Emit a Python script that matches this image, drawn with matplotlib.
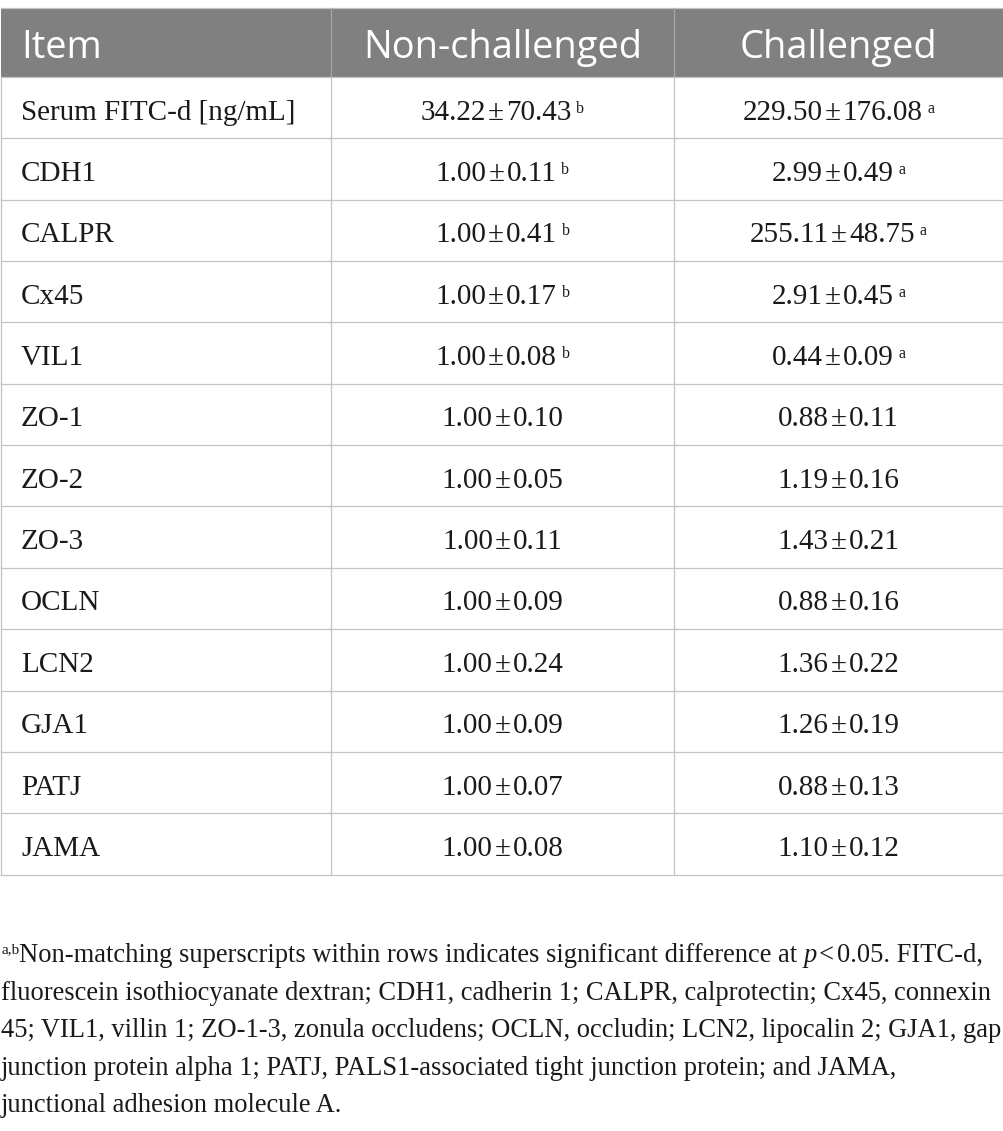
import matplotlib
matplotlib.use('Agg')
import matplotlib.pyplot as plt
from matplotlib.patches import Rectangle

# ---------------- data ----------------
headers = ["Item", "Non-challenged", "Challenged"]
items = ["Serum FITC-d [ng/mL]", "CDH1", "CALPR", "Cx45", "VIL1", "ZO-1", "ZO-2",
         "ZO-3", "OCLN", "LCN2", "GJA1", "PATJ", "JAMA"]
nonch_mean = ["34.22", "1.00", "1.00", "1.00", "1.00", "1.00", "1.00",
              "1.00", "1.00", "1.00", "1.00", "1.00", "1.00"]
nonch_sd = ["70.43", "0.11", "0.41", "0.17", "0.08", "0.10", "0.05",
            "0.11", "0.09", "0.24", "0.09", "0.07", "0.08"]
nonch_sup = ["b", "b", "b", "b", "b", "", "", "", "", "", "", "", ""]
chal_mean = ["229.50", "2.99", "255.11", "2.91", "0.44", "0.88", "1.19",
             "1.43", "0.88", "1.36", "1.26", "0.88", "1.10"]
chal_sd = ["176.08", "0.49", "48.75", "0.45", "0.09", "0.11", "0.16",
           "0.21", "0.16", "0.22", "0.19", "0.13", "0.12"]
chal_sup = ["a", "a", "a", "a", "a", "", "", "", "", "", "", "", ""]

footnote_lines = [
    [("a,b", "sup"), ("Non-matching superscripts within rows indicates significant difference at ", "n"),
     ("p", "i"), ("<", "lt"), ("0.05. FITC-d,", "n")],
    [("fluorescein isothiocyanate dextran; CDH1, cadherin 1; CALPR, calprotectin; Cx45, connexin", "n")],
    [("45; VIL1, villin 1; ZO-1-3, zonula occludens; OCLN, occludin; LCN2, lipocalin 2; GJA1, gap", "n")],
    [("junction protein alpha 1; PATJ, PALS1-associated tight junction protein; and JAMA,", "n")],
    [("junctional adhesion molecule A.", "n")],
]

# ---------------- layout ----------------
W, H = 1004, 1131
fig = plt.figure(figsize=(W / 100, H / 100), dpi=100)
ax = fig.add_axes([0, 0, 1, 1])
ax.set_xlim(0, W)
ax.set_ylim(H, 0)
ax.axis('off')
fig.canvas.draw()
R = fig.canvas.get_renderer()

SERIF = ['Liberation Serif', 'DejaVu Serif']
SANS = ['Open Sans', 'DejaVu Sans']
BODY = 21
SUP = 11.5
FOOT = 19.1
TXT = '#1a1a1a'

x_left, x_c1, x_c2, x_right = 1, 331, 674, 1003
y_top, y_head = 8, 77
row_h = 61.35
nrows = len(items)
y_bottom = y_head + row_h * nrows
grid = '#c3c3c3'

# header
ax.add_patch(Rectangle((x_left, y_top), x_right - x_left, y_head - y_top,
                       facecolor='#808080', edgecolor='none', zorder=1))
ax.plot([x_left, x_right], [y_top, y_top], color=grid, lw=0.9, zorder=2)
for xv in (x_c1, x_c2):
    ax.plot([xv, xv], [y_top, y_head], color='#a6a6a6', lw=0.9, zorder=2)

hy = 58
HS = 27.4
ax.text(21, hy, headers[0], family=SANS, fontsize=HS, color='white', ha='left', va='baseline', zorder=3)
ax.text((x_c1 + x_c2) / 2, hy, headers[1], family=SANS, fontsize=HS, color='white', ha='center', va='baseline', zorder=3)
ax.text((x_c2 + x_right) / 2, hy, headers[2], family=SANS, fontsize=HS, color='white', ha='center', va='baseline', zorder=3)

# grid lines
for k in range(nrows + 1):
    y = y_head + row_h * k
    ax.plot([x_left, x_right], [y, y], color=grid, lw=0.9, zorder=2)
for xv in (x_left, x_c1, x_c2, x_right):
    ax.plot([xv, xv], [y_head, y_bottom], color=grid, lw=0.9, zorder=2)


def width(s, **kw):
    t = ax.text(0, 0, s, **kw)
    w = t.get_window_extent(renderer=R).width
    t.remove()
    return w


PM_GAP = 2
SUP_GAP = 5


def cell(xc, yb, mean, sd, sup):
    kw = dict(family=SERIF, fontsize=BODY)
    skw = dict(family=SERIF, fontsize=SUP)
    w1 = width(mean, **kw)
    w2 = width("\u00b1", **kw)
    w3 = width(sd, **kw)
    ws = width(sup, **skw) if sup else 0
    total = w1 + w2 + w3 + 2 * PM_GAP + ((SUP_GAP + ws) if sup else 0)
    x = xc - total / 2
    ax.text(x, yb, mean, color=TXT, ha='left', va='baseline', zorder=3, **kw)
    x += w1 + PM_GAP
    ax.text(x, yb, "\u00b1", color=TXT, ha='left', va='baseline', zorder=3, **kw)
    x += w2 + PM_GAP
    ax.text(x, yb, sd, color=TXT, ha='left', va='baseline', zorder=3, **kw)
    x += w3 + SUP_GAP
    if sup:
        ax.text(x, yb - 7, sup, color=TXT, ha='left', va='baseline', zorder=3, **skw)


for i in range(nrows):
    yb = y_head + row_h * (i + 0.5) + 12
    ax.text(21, yb, items[i], family=SERIF, fontsize=BODY, color=TXT, ha='left', va='baseline', zorder=3)
    cell((x_c1 + x_c2) / 2, yb, nonch_mean[i], nonch_sd[i], nonch_sup[i])
    cell((x_c2 + x_right) / 2, yb, chal_mean[i], chal_sd[i], chal_sup[i])

# footnote
foot_base = [962, 999.5, 1037, 1075, 1112.5]
for line, yb in zip(footnote_lines, foot_base):
    x = 1
    for s, st in line:
        if st == 'sup':
            kw = dict(family=SERIF, fontsize=11)
            ax.text(x, yb - 9, s, color=TXT, ha='left', va='baseline', **kw)
            x += width(s, **kw)
        elif st == 'i':
            kw = dict(family=SERIF, fontsize=FOOT, style='italic')
            ax.text(x, yb, s, color=TXT, ha='left', va='baseline', **kw)
            x += width(s, **kw) + 1.5
        elif st == 'lt':
            kw = dict(family=SERIF, fontsize=FOOT)
            ax.text(x, yb, s, color=TXT, ha='left', va='baseline', **kw)
            x += width(s, **kw) + 3
        else:
            kw = dict(family=SERIF, fontsize=FOOT)
            ax.text(x, yb, s, color=TXT, ha='left', va='baseline', **kw)
            x += width(s, **kw)

fig.savefig('out.png', dpi=100)
